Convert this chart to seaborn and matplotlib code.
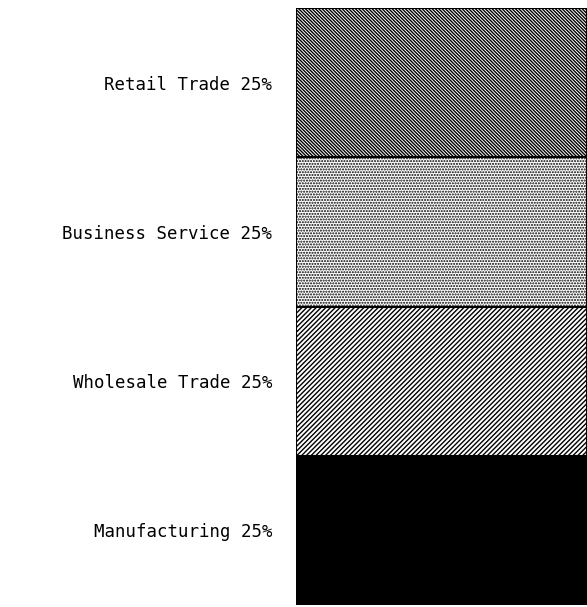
import numpy as np
import pandas as pd
import matplotlib
matplotlib.use("Agg")
import matplotlib.pyplot as plt
import seaborn as sns

# Data (bottom to top)
categories = ["Manufacturing", "Wholesale Trade", "Business Service", "Retail Trade"]
shares = [25, 25, 25, 25]
tick_labels = [f"{c} {s}%" for c, s in zip(categories, shares)]

# Fill styles (bottom to top)
facecolors = ["black", "white", "white", "white"]
hatches = [None, "///////", "......", "\\" * 10]

sns.set_theme(style="white")
plt.rcParams["hatch.linewidth"] = 1.0
plt.rcParams["font.family"] = ["DejaVu Sans Mono", "DejaVu Sans"]

fig = plt.figure(figsize=(5.87, 6.07), dpi=100)
ax = fig.add_axes([296 / 587, 2 / 607, 291 / 587, 597 / 607])

cum = np.cumsum(shares)
for i in reversed(range(len(categories))):
    df = pd.DataFrame({"grp": ["all"], "value": [cum[i]]})
    sns.barplot(data=df, x="grp", y="value", ax=ax, width=1.0,
                color=facecolors[i], saturation=1, hatch=hatches[i],
                edgecolor="black", linewidth=1.5)

ax.set_xlim(-0.5, 0.5)
ax.set_ylim(0, 100)
centers = cum - np.array(shares) / 2
ax.set_yticks(centers)
ax.set_yticklabels(tick_labels, fontsize=12.5, color="black")
for t in ax.get_yticklabels():
    t.set_y(t.get_position()[1])
ax.tick_params(axis="y", length=0, pad=17)
ax.set_xticks([])
ax.set_xlabel("")
ax.set_ylabel("")
for s in ax.spines.values():
    s.set_visible(False)

fig.savefig("out.png", dpi=100)
